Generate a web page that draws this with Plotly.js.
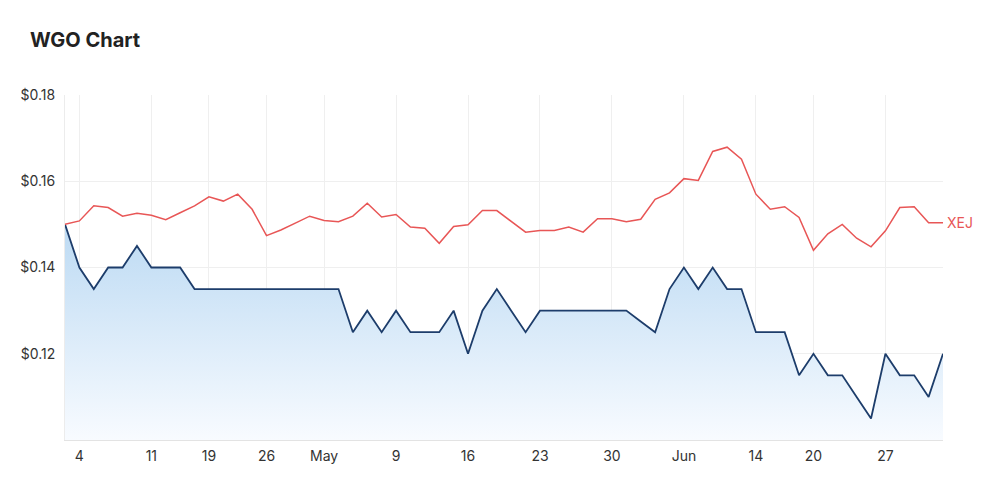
<!DOCTYPE html>
<html>
<head>
<meta charset="utf-8">
<script src="https://cdn.plot.ly/plotly-3.0.1.min.js"></script>
<style>
  html, body { margin: 0; padding: 0; background: #ffffff; }
  #chart { width: 1000px; height: 495px; }
</style>
</head>
<body>
<div id="chart"></div>
<script>
// Trading days, 1 Apr 2022 – 1 Jul 2022
const dates = [
  "2022-04-01","2022-04-04","2022-04-05","2022-04-06","2022-04-07","2022-04-08",
  "2022-04-11","2022-04-12","2022-04-13","2022-04-14","2022-04-19","2022-04-20",
  "2022-04-21","2022-04-22","2022-04-26","2022-04-27","2022-04-28","2022-04-29",
  "2022-05-02","2022-05-03","2022-05-04","2022-05-05","2022-05-06","2022-05-09",
  "2022-05-10","2022-05-11","2022-05-12","2022-05-13","2022-05-16","2022-05-17",
  "2022-05-18","2022-05-19","2022-05-20","2022-05-23","2022-05-24","2022-05-25",
  "2022-05-26","2022-05-27","2022-05-30","2022-05-31","2022-06-01","2022-06-02",
  "2022-06-03","2022-06-06","2022-06-07","2022-06-08","2022-06-09","2022-06-10",
  "2022-06-14","2022-06-15","2022-06-16","2022-06-17","2022-06-20","2022-06-21",
  "2022-06-22","2022-06-23","2022-06-24","2022-06-27","2022-06-28","2022-06-29",
  "2022-06-30","2022-07-01"
];

const wgo = [
  0.150, 0.140, 0.135, 0.140, 0.140, 0.145,
  0.140, 0.140, 0.140, 0.135, 0.135, 0.135,
  0.135, 0.135, 0.135, 0.135, 0.135, 0.135,
  0.135, 0.135, 0.125, 0.130, 0.125, 0.130,
  0.125, 0.125, 0.125, 0.130, 0.120, 0.130,
  0.135, 0.130, 0.125, 0.130, 0.130, 0.130,
  0.130, 0.130, 0.130, 0.130, 0.1275, 0.125,
  0.135, 0.140, 0.135, 0.140, 0.135, 0.135,
  0.125, 0.125, 0.125, 0.115, 0.120, 0.115,
  0.115, 0.110, 0.105, 0.120, 0.115, 0.115,
  0.110, 0.120
];

const xej = [
  0.1500, 0.1508, 0.1543, 0.1539, 0.1519, 0.1526,
  0.1521, 0.1511, 0.1527, 0.1543, 0.1564, 0.1554,
  0.1570, 0.1535, 0.1474, 0.1487, 0.1503, 0.1519,
  0.1509, 0.1506, 0.1519, 0.1549, 0.1517, 0.1523,
  0.1494, 0.1491, 0.1456, 0.1495, 0.1499, 0.1532,
  0.1532, 0.1506, 0.1482, 0.1486, 0.1486, 0.1494,
  0.1482, 0.1513, 0.1513, 0.1506, 0.1512, 0.1558,
  0.1573, 0.1606, 0.1602, 0.1669, 0.1679, 0.1651,
  0.1570, 0.1535, 0.1541, 0.1516, 0.1440, 0.1478,
  0.1500, 0.1468, 0.1448, 0.1485, 0.1539, 0.1541,
  0.1504, 0.1504
];

const tickDates = ["2022-04-04","2022-04-11","2022-04-19","2022-04-26","2022-05-02",
  "2022-05-09","2022-05-16","2022-05-23","2022-05-30","2022-06-06","2022-06-14",
  "2022-06-20","2022-06-27"];
const tickLabels = ["4","11","19","26","May","9","16","23","30","Jun","14","20","27"];

const yTicks = [0.12, 0.14, 0.16, 0.18];
const yRange = [0.10, 0.18];

const FONT = "Inter, 'Open Sans', Roboto, sans-serif";

const traces = [
  {
    x: dates, y: wgo, type: "scatter", mode: "lines", name: "WGO",
    fill: "tozeroy",
    fillgradient: {
      type: "vertical",
      start: 0.10, stop: 0.15,
      colorscale: [[0, "rgba(248,251,255,1)"], [1, "rgba(188,218,243,1)"]]
    },
    line: { color: "#1d3d6b", width: 1.8 },
    hoverinfo: "skip"
  },
  {
    x: dates, y: xej, type: "scatter", mode: "lines", name: "XEJ",
    line: { color: "#e85656", width: 1.5 },
    hoverinfo: "skip"
  }
];

const layout = {
  width: 1000, height: 495,
  margin: { l: 65, r: 57, t: 95, b: 55 },
  paper_bgcolor: "#ffffff", plot_bgcolor: "#ffffff",
  showlegend: false,
  font: { family: FONT, size: 14, color: "#333333" },
  title: {
    text: "<b>WGO Chart</b>",
    x: 30 / 1000, xref: "container", xanchor: "left",
    y: 1 - 40 / 495, yref: "container", yanchor: "middle",
    font: { family: FONT, size: 20, color: "#222222" }
  },
  xaxis: {
    type: "category",
    range: [0, dates.length - 1],
    tickmode: "array", tickvals: tickDates, ticktext: tickLabels,
    showgrid: true, gridcolor: "#efefef", gridwidth: 1,
    showline: true, linecolor: "#e3e3e3", linewidth: 1,
    ticks: "", ticklabelstandoff: 3,
    tickfont: { family: FONT, size: 14, color: "#333333" },
    zeroline: false, fixedrange: true
  },
  yaxis: {
    range: yRange,
    tickmode: "array", tickvals: yTicks,
    tickformat: "$.2f",
    showgrid: true, gridcolor: "#efefef", gridwidth: 1,
    showline: true, linecolor: "#ececec", linewidth: 1,
    ticks: "", ticklabelstandoff: 6,
    tickfont: { family: FONT, size: 14, color: "#333333" },
    zeroline: false, fixedrange: true
  },
  annotations: [
    {
      x: dates[dates.length - 1], y: xej[xej.length - 1],
      xref: "x", yref: "y", text: "XEJ", showarrow: false,
      xanchor: "left", yanchor: "middle", xshift: 2,
      font: { family: FONT, size: 14, color: "#e85656" }
    }
  ]
};

Plotly.newPlot("chart", traces, layout, { displayModeBar: false, staticPlot: true });
</script>
</body>
</html>
